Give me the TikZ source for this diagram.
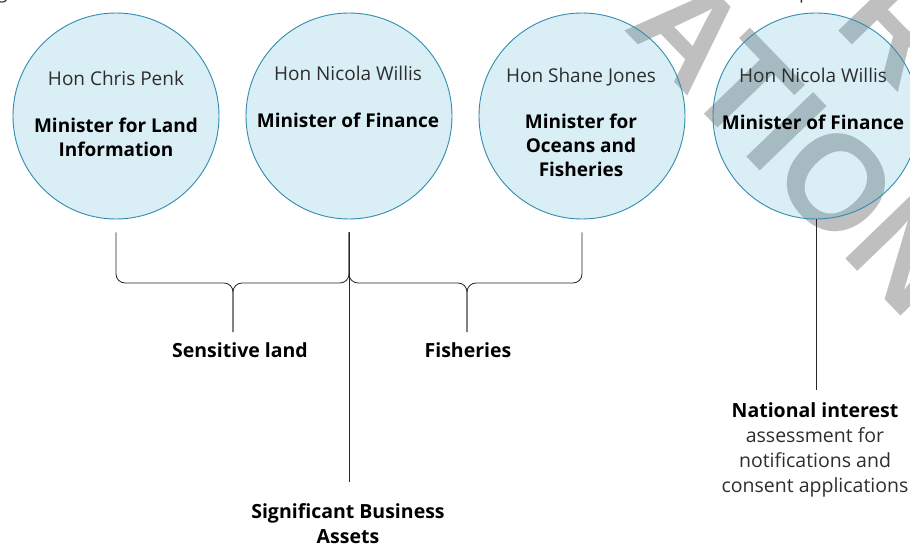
\documentclass[tikz,border=0pt]{standalone}
\usepackage{fontspec}
\setmainfont{Open Sans}
\newfontfamily\markfont{Liberation Sans}
\usetikzlibrary{positioning}

\definecolor{mincirc}{RGB}{70,170,205}
\definecolor{minedge}{RGB}{49,140,175}
\definecolor{hontext}{RGB}{45,45,45}

\tikzset{
  minister/.style={circle, minimum size=206pt, inner sep=0pt, draw=minedge, line width=0.9pt, fill=mincirc, fill opacity=0.2},
  hon/.style={font=\fontsize{19}{24}\selectfont, text=hontext, anchor=base, inner sep=0pt},
  role/.style={font=\fontsize{19}{24}\selectfont\bfseries, align=center, anchor=base, inner sep=0pt},
  area/.style={font=\fontsize{19.5}{24.5}\selectfont\bfseries, align=center, anchor=base, inner sep=0pt},
  areanote/.style={font=\fontsize{19.5}{24.8}\selectfont, text=hontext, align=center, anchor=base, inner sep=0pt},
  bracket/.style={draw=black!85, line width=0.8pt, rounded corners=9pt},
  link/.style={draw=black!85, line width=0.8pt},
  watermark/.style={font=\markfont\bfseries\fontsize{135}{135}\selectfont, text=black!25, rotate=-46, anchor=base west, inner sep=0pt}
}

\begin{document}
\begin{tikzpicture}[x=1pt, y=-1pt]
% Fix the frame to the size of the page
\useasboundingbox (0,0) rectangle (910,545);
\clip (0,0) rectangle (910,545);

% Watermark behind everything
\node[watermark] (mark a) at (832,24) {R};
\node[watermark] (mark b) at (622,28) {ATION};

% Cut-off heading text at the top edge
\node[hon, anchor=base west] (head l) at (-3,-1) {g};
\node[hon, anchor=base west] (head r) at (799,-1) {p};

% Draw the four minister circles
\foreach \name/\x in {c1/116, c2/349, c3/582, c4/816}
  \node[minister] (\name) at (\x,116) {};

% Names and portfolios inside the circles (base = last line)
\node[hon] (hon1) at (116,86) {Hon Chris Penk};
\node[role] (role1) at (116,157) {Minister for Land\\Information};
\node[hon] (hon2) at (348,81) {Hon Nicola Willis};
\node[role] (role2) at (348,128) {Minister of Finance};
\node[hon] (hon3) at (581,83) {Hon Shane Jones};
\node[role] (role3) at (581,177) {Minister for\\Oceans and\\Fisheries};
\node[hon] (hon4) at (813,83) {Hon Nicola Willis};
\node[role] (role4) at (813,130) {Minister of Finance};

% Labels for the shared areas
\node[area] (sens) at (240,357) {Sensitive land};
\node[area] (fish) at (468,357) {Fisheries};
\node[area] (sba) at (348,543) {Significant Business\\Assets};
\node[areanote] (nat) at (815,492) {{\bfseries\color{black} National interest}\\assessment for\\notifications and\\consent applications};

% Points where the brackets and lines start and end
\coordinate (top1) at ([yshift=-13pt]c1.south);
\coordinate (top2) at ([yshift=-13pt]c2.south);
\coordinate (top3) at ([yshift=-13pt]c3.south);
\coordinate (mid1) at (233,283);
\coordinate (mid2) at (467,283);
\coordinate (tip1) at (233,332);
\coordinate (tip2) at (467,332);
\coordinate (end2) at (349,482);
\coordinate (end4) at (816,390);

% Brackets joining neighbouring ministers
\draw[bracket] (top1) -- (top1 |- mid1) -- (mid1) -- (tip1);
\draw[bracket] (top2) -- (top2 |- mid1) -- (mid1) -- (tip1);
\draw[bracket] (top2) -- (top2 |- mid2) -- (mid2) -- (tip2);
\draw[bracket] (top3) -- (top3 |- mid2) -- (mid2) -- (tip2);

% Single lines for the Minister of Finance
\draw[link] (top2) -- (end2);
\draw[link] (c4.south) -- (end4);
\end{tikzpicture}
\end{document}
